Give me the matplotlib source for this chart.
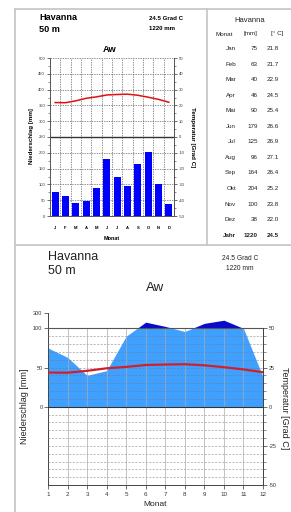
import numpy as np
import matplotlib
matplotlib.use("Agg")
import matplotlib.pyplot as plt
from matplotlib.lines import Line2D
from matplotlib.patches import Rectangle

# ---------------- data ----------------
station = "Havanna"
elevation = "50 m"
climate_class = "Aw"
months_de = ["Jan", "Feb", "Mar", "Apr", "Mai", "Jun", "Jul", "Aug", "Sep", "Okt", "Nov", "Dez"]
month_letters = ["J", "F", "M", "A", "M", "J", "J", "A", "S", "O", "N", "D"]
month_numbers = list(range(1, 13))
precip = [75, 63, 40, 46, 90, 179, 125, 96, 164, 204, 100, 38]
temp = [21.8, 21.7, 22.9, 24.5, 25.4, 26.6, 26.9, 27.1, 26.4, 25.2, 23.8, 22.0]
annual_precip = 1220
annual_temp = 24.5
top_left_ticks = [0, 50, 100, 150, 200, 250, 300, 350, 400, 450, 500]
top_right_ticks = [-50, -40, -30, -20, -10, 0, 10, 20, 30, 40, 50]
bot_left_ticks = [0, 50, 100, 120]
bot_left_labels = ["0", "50", "100", "300"]
bot_right_ticks = [-100, -50, 0, 50, 100]
bot_right_labels = ["-50", "-25", "0", "25", "50"]

plt.rcParams['font.family'] = ['Liberation Sans', 'DejaVu Sans']

W, H = 291, 512
fig = plt.figure(figsize=(W / 100, H / 100), dpi=100)
fig.patch.set_facecolor("white")

def fx(px):
    return px / W

def fy(py):
    return 1 - py / H

def ftext(px, py, s, **kw):
    fig.text(fx(px), fy(py), s, **kw)

# ---------------- borders ----------------
bc = "#c8c8c8"
for (x0, y0, x1, y1) in [(15, 8.5, 15, 512), (15, 8.5, 291, 8.5), (207, 8.5, 207, 245), (15, 245, 291, 245)]:
    fig.add_artist(Line2D([fx(x0), fx(x1)], [fy(y0), fy(y1)], color=bc, lw=1.3,
                          transform=fig.transFigure))

# ---------------- top chart ----------------
ax1 = fig.add_axes([fx(50), fy(216), fx(174) - fx(50), fy(58) - fy(216)])
ax1.set_xlim(0, 12)
ax1.set_ylim(0, 500)
centers = np.arange(12) + 0.5
ax1.bar(centers, precip, width=0.65, color="#0000ff", zorder=3)
for y in top_left_ticks[1:]:
    if y == 250:
        ax1.axhline(y, color="#333333", lw=1.0, zorder=2)
    else:
        ax1.axhline(y, color="#666666", lw=0.5, ls=(0, (2, 1.5)), zorder=1)
for x in range(1, 12):
    ax1.axvline(x, color="#666666", lw=0.5, ls=(0, (2, 1.5)), zorder=1)
ax1.spines["top"].set_visible(False)
for s in ["left", "right", "bottom"]:
    ax1.spines[s].set_color("#555555")
    ax1.spines[s].set_linewidth(0.6)
ax1.set_yticks(top_left_ticks)
ax1.set_yticklabels([str(v) for v in top_left_ticks], fontsize=3)
ax1.set_yticks(np.arange(25, 500, 50), minor=True)
ax1.tick_params(axis="y", which="major", length=2.5, width=0.5, pad=1, colors="#333333")
ax1.tick_params(axis="y", which="minor", length=1.5, width=0.4, colors="#333333")
ax1.set_xticks(centers)
ax1.set_xticklabels(month_letters, fontsize=3, fontweight="bold")
ax1.tick_params(axis="x", length=0, pad=7)

ax1r = ax1.twinx()
ax1r.set_ylim(-50, 50)
ax1r.plot(centers, temp, color="#e01010", lw=1.1, zorder=4)
ax1r.spines["top"].set_visible(False)
for s in ["left", "right", "bottom"]:
    ax1r.spines[s].set_color("#555555")
    ax1r.spines[s].set_linewidth(0.6)
ax1r.set_yticks(top_right_ticks)
ax1r.set_yticklabels([str(v) for v in top_right_ticks], fontsize=3)
ax1r.set_yticks(np.arange(-45, 50, 10), minor=True)
ax1r.tick_params(axis="y", which="major", length=2.5, width=0.5, pad=1, colors="#333333")
ax1r.tick_params(axis="y", which="minor", length=1.5, width=0.4, colors="#333333")

ftext(32, 136, "Niederschlag [mm]", rotation=90, fontsize=4.5, fontweight="bold", ha="center", va="center")
ftext(192, 137, "Temperatur [Grad C]", rotation=270, fontsize=4.5, fontweight="bold", ha="center", va="center")
ftext(112, 238, "Monat", fontsize=4, fontweight="bold", ha="center", va="center")
ftext(39, 17, station, fontsize=6.6, fontweight="bold", ha="left", va="center")
ftext(39, 29, elevation, fontsize=6.6, fontweight="bold", ha="left", va="center")
ftext(149, 19, f"{annual_temp} Grad C", fontsize=4.4, fontweight="bold", ha="left", va="center")
ftext(149, 29, f"{annual_precip} mm", fontsize=4.4, fontweight="bold", ha="left", va="center")
ftext(110, 49, climate_class, fontsize=6.7, fontweight="bold", ha="center", va="center")

# ---------------- table ----------------
tc = "#222222"
ftext(250, 21, station, fontsize=5.5, ha="center", va="center", color=tc)
ftext(233, 34, "Monat", fontsize=4.5, ha="right", va="center", color=tc)
ftext(257, 34, "[mm]", fontsize=4.5, ha="right", va="center", color=tc)
ftext(283, 34, "[° C]", fontsize=4.5, ha="right", va="center", color=tc)
for i, m in enumerate(months_de):
    yy = 48.5 + i * 15.55
    ftext(236, yy, m, fontsize=4.5, ha="right", va="center", color=tc)
    ftext(258, yy, str(precip[i]), fontsize=4.5, ha="right", va="center", color=tc)
    ftext(279, yy, f"{temp[i]:.1f}", fontsize=4.5, ha="right", va="center", color=tc)
yy = 48.5 + 12 * 15.55
ftext(236, yy, "Jahr", fontsize=4.5, ha="right", va="center", color=tc, fontweight="bold")
ftext(258, yy, str(annual_precip), fontsize=4.5, ha="right", va="center", color=tc, fontweight="bold")
ftext(279, yy, f"{annual_temp:.1f}", fontsize=4.5, ha="right", va="center", color=tc, fontweight="bold")

# ---------------- bottom chart (Walter-Lieth) ----------------
ax2 = fig.add_axes([fx(48), fy(485), fx(263) - fx(48), fy(312.7) - fy(485)])
ax2.set_xlim(1, 12)
ax2.set_ylim(-100, 120)
peq = [p if p <= 100 else 100 + (p - 100) / 10 for p in precip]
light = ax2.fill_between(month_numbers, 0, peq, color="#40a0ff", lw=0, zorder=2)
light.set_clip_path(Rectangle((0, 0), 13, 100, transform=ax2.transData))
dark = ax2.fill_between(month_numbers, 0, peq, color="#0a0ac8", lw=0, zorder=2)
dark.set_clip_path(Rectangle((0, 100), 13, 30, transform=ax2.transData))
for y in range(-90, 100, 10):
    if y in (0,):
        continue
    ax2.axhline(y, color="#777777", lw=0.5, ls=(0, (3, 2)), alpha=0.7, zorder=3)
for x in range(2, 12):
    ax2.plot([x, x], [-100, 100], color="#aaaaaa", lw=0.5, zorder=3)
ax2.axhline(100, color="#555555", lw=0.8, zorder=5)
ax2.axhline(0, color="#333333", lw=0.8, zorder=5)
ax2.plot(month_numbers, np.array(temp) * 2, color="#d0202a", lw=1.6, zorder=6)
ax2.spines["top"].set_visible(False)
ax2.spines["left"].set_bounds(-100, 120)
ax2.spines["right"].set_bounds(-100, 100)
for s in ["left", "right", "bottom"]:
    ax2.spines[s].set_color("#444444")
    ax2.spines[s].set_linewidth(0.7)
ax2.set_yticks(bot_left_ticks)
ax2.set_yticklabels(bot_left_labels, fontsize=4)
ax2.tick_params(axis="y", length=3, width=0.5, pad=1, colors="#333333")
ax2.set_xticks(month_numbers)
ax2.set_xticklabels([str(m) for m in month_numbers], fontsize=4.5)
ax2.tick_params(axis="x", length=3, width=0.5, pad=2, colors="#333333")

ax2r = ax2.twinx()
ax2r.set_ylim(-100, 120)
ax2r.spines["top"].set_visible(False)
ax2r.spines["left"].set_visible(False)
ax2r.spines["bottom"].set_visible(False)
ax2r.spines["right"].set_bounds(-100, 100)
ax2r.spines["right"].set_color("#444444")
ax2r.spines["right"].set_linewidth(0.7)
ax2r.set_yticks(bot_right_ticks)
ax2r.set_yticklabels(bot_right_labels, fontsize=4)
ax2r.set_yticks(np.arange(-90, 100, 10), minor=True)
ax2r.tick_params(axis="y", which="major", length=3, width=0.5, pad=1, colors="#333333")
ax2r.tick_params(axis="y", which="minor", length=2, width=0.4, colors="#333333")

ftext(25, 406, "Niederschlag [mm]", rotation=90, fontsize=6.5, ha="center", va="center", color="#222222")
ftext(284, 408, "Temperatur [Grad C]", rotation=270, fontsize=6.5, ha="center", va="center", color="#222222")
ftext(155, 505, "Monat", fontsize=6, ha="center", va="center", color="#222222")
ftext(48, 257, station, fontsize=9, ha="left", va="center", color="#222222")
ftext(48, 271, elevation, fontsize=9, ha="left", va="center", color="#222222")
ftext(240, 259, f"{annual_temp} Grad C", fontsize=4.8, ha="center", va="center", color="#222222")
ftext(240, 269, f"{annual_precip} mm", fontsize=4.8, ha="center", va="center", color="#222222")
ftext(155, 288, climate_class, fontsize=9.5, ha="center", va="center", color="#222222")

fig.savefig("out.png", dpi=100)
